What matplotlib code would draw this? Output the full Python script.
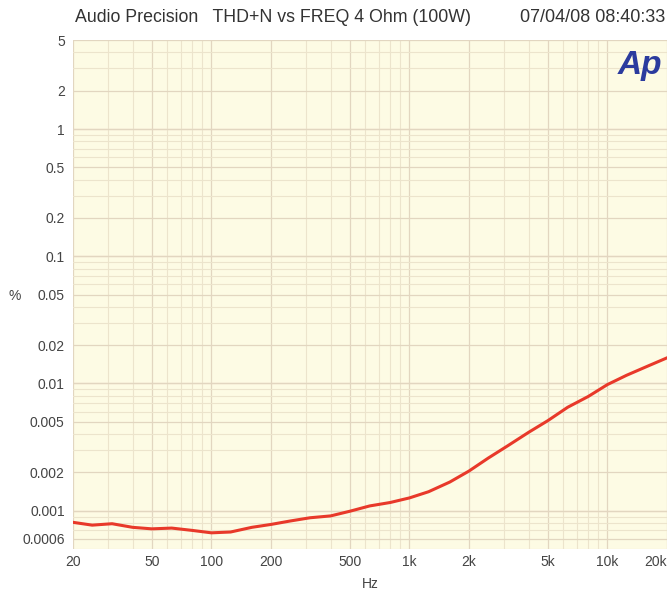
import matplotlib.pyplot as plt
from matplotlib.ticker import FixedLocator, LogLocator, NullFormatter

freq_hz = [20, 25, 31.5, 40, 50, 63, 80, 100, 125, 160, 200, 250, 315, 400,
           500, 630, 800, 1000, 1250, 1600, 2000, 2500, 3150, 4000, 5000,
           6300, 8000, 10000, 12500, 16000, 20000]
thd_pct = [0.00081, 0.00077, 0.00079, 0.00074, 0.00072, 0.00073, 0.00070,
           0.00067, 0.00068, 0.00074, 0.00078, 0.00083, 0.00088, 0.00091,
           0.00099, 0.00109, 0.00116, 0.00126, 0.00141, 0.00168, 0.00205,
           0.00259, 0.00325, 0.00413, 0.0051, 0.0065, 0.0079, 0.0098,
           0.0116, 0.0137, 0.0159]

x_ticks = [20, 50, 100, 200, 500, 1000, 2000, 5000, 10000, 20000]
x_labels = ["20", "50", "100", "200", "500", "1k", "2k", "5k", "10k", "20k"]
y_ticks = [5, 2, 1, 0.5, 0.2, 0.1, 0.05, 0.02, 0.01, 0.005, 0.002, 0.001, 0.0006]
y_labels = ["5", "2", "1", "0.5", "0.2", "0.1", "0.05", "0.02", "0.01",
            "0.005", "0.002", "0.001", "0.0006"]

plt.rcParams["font.family"] = ["Liberation Sans", "DejaVu Sans"]

fig = plt.figure(figsize=(6.7, 5.9), dpi=100)
ax = fig.add_axes([0.109, 0.0695, 0.8865, 0.8625])
ax.set_facecolor("#fdfbe4")

ax.set_xscale("log")
ax.set_yscale("log")
ax.set_xlim(20, 20000)
ax.set_ylim(0.0005, 5)

# graph-paper style grid
ax.xaxis.set_minor_locator(LogLocator(base=10, subs=range(2, 10)))
ax.yaxis.set_minor_locator(LogLocator(base=10, subs=range(2, 10)))
ax.xaxis.set_minor_formatter(NullFormatter())
ax.yaxis.set_minor_formatter(NullFormatter())
ax.grid(True, which="minor", color="#ece4cc", linewidth=0.8)
ax.grid(True, which="major", color="#e2d6c0", linewidth=0.9)
for v in [1, 0.1, 0.01, 0.001]:
    ax.axhline(v, color="#f4c6b8", linewidth=0.9, zorder=1)

ax.plot(freq_hz, thd_pct, color="#e8392a", linewidth=2.2, zorder=3)

ax.xaxis.set_major_locator(FixedLocator(x_ticks))
ax.set_xticklabels(x_labels)
ax.yaxis.set_major_locator(FixedLocator(y_ticks))
ax.set_yticklabels(y_labels)
ax.tick_params(which="both", length=0, labelsize=10, labelcolor="#444444")
ax.tick_params(axis="x", pad=4)
ax.tick_params(axis="y", pad=6)
ax.get_xticklabels()[-1].set_horizontalalignment("right")

for s in ax.spines.values():
    s.set_visible(False)

ax.set_xlabel("Hz", fontsize=10, color="#444444", labelpad=6)
fig.text(15 / 670, 1 - 296 / 590, "%", fontsize=10, color="#444444",
         ha="center", va="center")

fig.text(75 / 670, 1 - 18 / 590,
         "Audio Precision   THD+N vs FREQ 4 Ohm (100W)",
         fontsize=12.8, color="#333333", ha="left", va="center")
fig.text(665 / 670, 1 - 18 / 590, "07/04/08 08:40:33",
         fontsize=13, color="#333333", ha="right", va="center")

ax.text(0.955, 0.95, "Ap", transform=ax.transAxes, fontsize=24,
        fontweight="bold", fontstyle="italic", color="#2b3b9e",
        ha="center", va="center", zorder=4)

fig.savefig("out.png", dpi=100)
